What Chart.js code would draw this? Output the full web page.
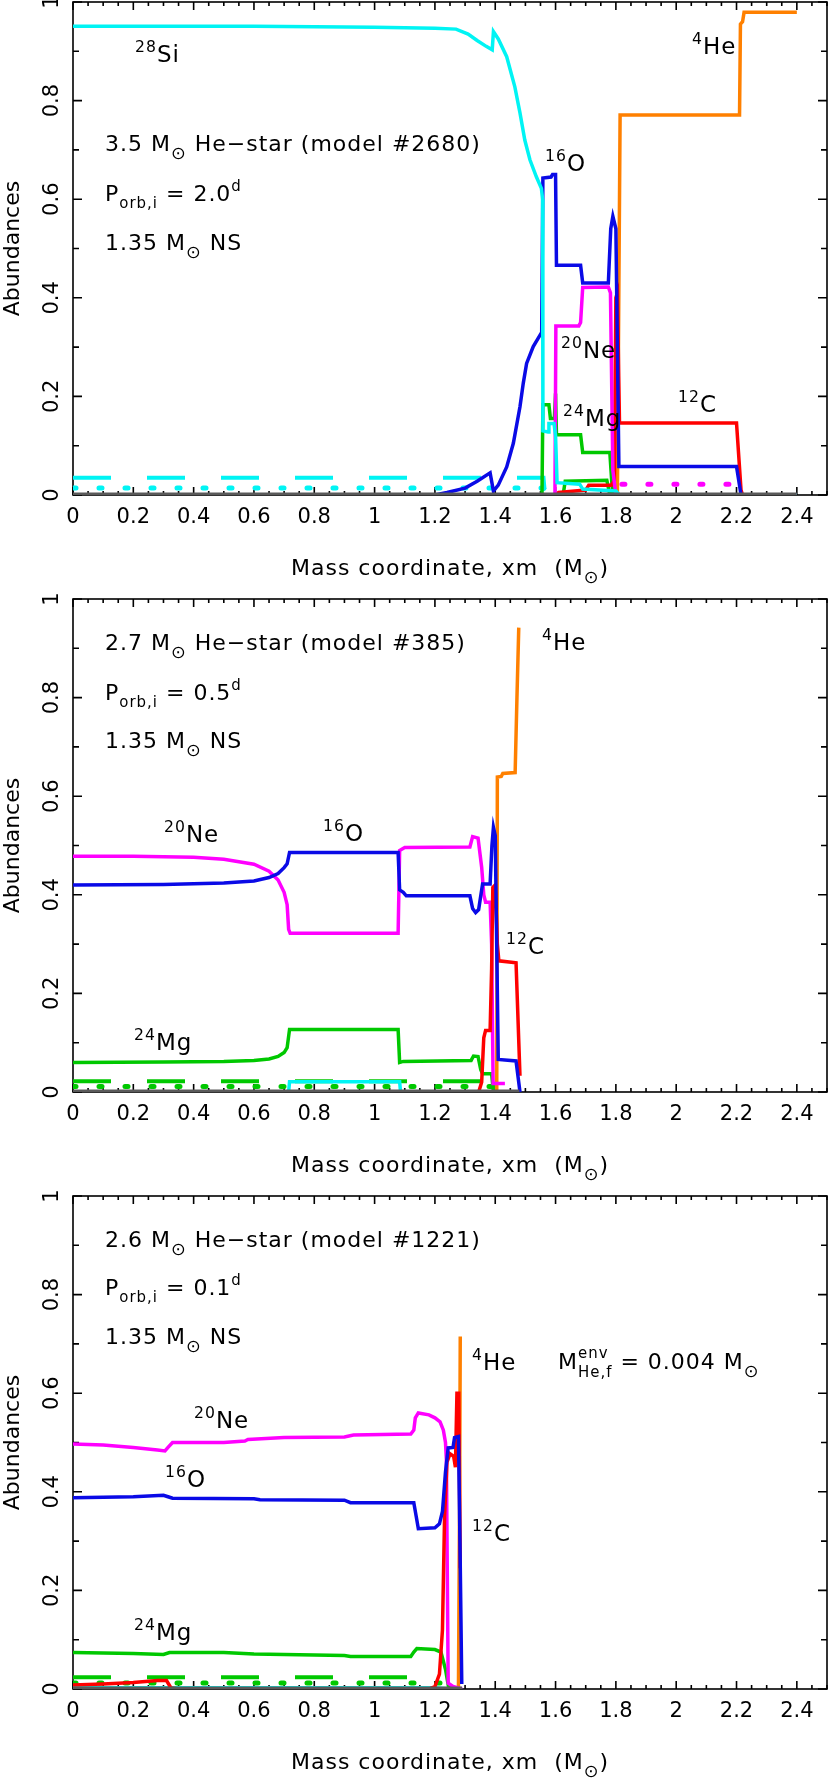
<!DOCTYPE html>
<html>
<head>
<meta charset="utf-8">
<script src="https://cdn.jsdelivr.net/npm/chart.js@4.4.0/dist/chart.umd.min.js"></script>
<style>
  html, body { margin: 0; padding: 0; background: #fff; width: 830px; height: 1780px; overflow: hidden; }
  canvas { position: absolute; left: 0; }
</style>
</head>
<body>
<canvas id="c1" width="830" height="596" style="top:-10px"></canvas>
<canvas id="c2" width="830" height="596" style="top:587px"></canvas>
<canvas id="c3" width="830" height="596" style="top:1184px"></canvas>
<script>
// ---- panel 1: 3.5 Msun He-star, Porb = 2.0 d ----
const p1Si28 = [[0,0.951],[0.6,0.951],[1.0,0.949],[1.2,0.947],[1.27,0.945],[1.31,0.935],[1.34,0.922],[1.37,0.91],[1.39,0.903],[1.394,0.94],[1.41,0.925],[1.438,0.889],[1.465,0.828],[1.482,0.775],[1.498,0.72],[1.515,0.68],[1.536,0.646],[1.553,0.622],[1.557,0.6],[1.558,0.13],[1.575,0.128],[1.578,0.145],[1.595,0.145],[1.6,0.12],[1.605,0.025],[1.68,0.022],[1.69,0.012],[1.8,0.008],[1.812,0],[2.4,0]]
const p1O16 = [[0,0],[1.2,0],[1.24,0.005],[1.3,0.014],[1.34,0.028],[1.383,0.045],[1.394,0.008],[1.41,0.02],[1.438,0.057],[1.46,0.105],[1.482,0.179],[1.493,0.227],[1.504,0.267],[1.526,0.301],[1.554,0.33],[1.558,0.643],[1.585,0.645],[1.59,0.65],[1.6,0.65],[1.603,0.466],[1.683,0.466],[1.69,0.43],[1.775,0.43],[1.783,0.54],[1.79,0.565],[1.8,0.54],[1.81,0.058],[2.2,0.058],[2.215,0],[2.4,0]]
const p1Ne20 = [[0,0],[1.598,0],[1.601,0.343],[1.677,0.343],[1.683,0.35],[1.69,0.421],[1.775,0.422],[1.782,0.41],[1.79,0.05],[1.8,0],[2.4,0]]
const p1Mg24 = [[0,0],[1.555,0],[1.558,0.183],[1.578,0.183],[1.583,0.155],[1.596,0.155],[1.6,0.206],[1.603,0.122],[1.683,0.122],[1.69,0.086],[1.78,0.086],[1.786,0.03],[1.79,0],[2.4,0]]
const p1Mg24b = [[1.625,0],[1.632,0.028],[1.77,0.03],[1.78,0]]
const p1C12 = [[0,0],[1.6,0],[1.61,0.005],[1.7,0.01],[1.71,0.02],[1.785,0.02],[1.795,0.03],[1.8,0.4],[1.805,0.41],[1.812,0.146],[2.2,0.146],[2.215,0.01],[2.22,0],[2.4,0]]
const p1He4 = [[1.805,0],[1.814,0.771],[2.21,0.771],[2.213,0.955],[2.22,0.96],[2.225,0.979],[2.4,0.979]]
const p1CyanDash = [[0,0.035],[1.56,0.035],[1.565,0]]
const p1CyanDot = [[0,0.014],[1.56,0.014],[1.57,0.004]]
const p1MagDot = [[1.82,0.022],[2.2,0.022],[2.21,0]]
const p1Base = [[0,0],[2.4,0]]

// ---- panel 2: 2.7 Msun He-star, Porb = 0.5 d ----
const p2Ne20 = [[0,0.478],[0.2,0.478],[0.4,0.476],[0.5,0.472],[0.6,0.462],[0.65,0.448],[0.68,0.43],[0.7,0.405],[0.71,0.38],[0.715,0.33],[0.72,0.322],[1.078,0.322],[1.083,0.49],[1.1,0.496],[1.316,0.497],[1.325,0.518],[1.343,0.515],[1.355,0.456],[1.362,0.4],[1.368,0.385],[1.383,0.385],[1.388,0.3],[1.393,0.017],[1.432,0.017]]
const p2O16 = [[0,0.42],[0.3,0.421],[0.5,0.424],[0.6,0.428],[0.65,0.435],[0.68,0.443],[0.7,0.455],[0.71,0.463],[0.718,0.486],[1.078,0.486],[1.083,0.41],[1.095,0.405],[1.105,0.398],[1.316,0.398],[1.325,0.372],[1.335,0.364],[1.345,0.37],[1.358,0.422],[1.383,0.422],[1.389,0.5],[1.394,0.537],[1.4,0.52],[1.41,0.066],[1.469,0.063],[1.482,0]]
const p2C12 = [[0,0],[1.345,0],[1.355,0.02],[1.362,0.11],[1.368,0.125],[1.383,0.125],[1.388,0.25],[1.392,0.415],[1.4,0.42],[1.407,0.3],[1.412,0.266],[1.469,0.262],[1.482,0.033]]
const p2Mg24 = [[0,0.06],[0.3,0.061],[0.5,0.062],[0.6,0.064],[0.65,0.067],[0.68,0.072],[0.7,0.08],[0.71,0.09],[0.718,0.127],[1.078,0.127],[1.083,0.06],[1.095,0.062],[1.32,0.064],[1.328,0.073],[1.343,0.072],[1.352,0.045],[1.358,0.037],[1.388,0.037],[1.394,0]]
const p2He4 = [[1.405,0],[1.407,0.639],[1.42,0.64],[1.425,0.646],[1.466,0.648],[1.472,0.8],[1.478,0.942]]
const p2Si28 = [[0,0],[0.715,0],[0.718,0.021],[1.083,0.021],[1.086,0],[1.48,0]]
const p2MgDash = [[0,0.022],[1.383,0.022]]
const p2MgDot = [[0,0.011],[1.39,0.011]]
const p2Base = [[0,0],[1.48,0]]

// ---- panel 3: 2.6 Msun He-star, Porb = 0.1 d ----
const p3Ne20 = [[0,0.497],[0.1,0.495],[0.2,0.49],[0.28,0.485],[0.305,0.483],[0.315,0.49],[0.33,0.5],[0.5,0.5],[0.57,0.503],[0.58,0.506],[0.7,0.51],[0.9,0.511],[0.93,0.515],[1.12,0.517],[1.13,0.525],[1.135,0.55],[1.145,0.56],[1.18,0.556],[1.2,0.55],[1.217,0.542],[1.228,0.525],[1.235,0.5],[1.238,0.465],[1.244,0.012],[1.26,0.005],[1.29,0]]
const p3O16 = [[0,0.388],[0.2,0.39],[0.3,0.393],[0.315,0.39],[0.33,0.387],[0.6,0.386],[0.62,0.384],[0.9,0.383],[0.92,0.378],[1.13,0.378],[1.138,0.35],[1.145,0.325],[1.2,0.327],[1.215,0.335],[1.225,0.36],[1.235,0.44],[1.244,0.489],[1.26,0.49],[1.265,0.51],[1.278,0.512],[1.283,0.3],[1.289,0.01]]
const p3C12 = [[0,0.008],[0.1,0.01],[0.2,0.013],[0.28,0.017],[0.31,0.017],[0.325,0.002],[0.35,0],[1.18,0],[1.2,0.005],[1.215,0.03],[1.225,0.12],[1.232,0.35],[1.24,0.46],[1.25,0.477],[1.262,0.472],[1.268,0.45],[1.273,0.6],[1.279,0.6],[1.284,0.245]]
const p3Mg24 = [[0,0.074],[0.2,0.072],[0.3,0.07],[0.32,0.074],[0.5,0.074],[0.6,0.071],[0.9,0.068],[0.92,0.066],[1.12,0.066],[1.13,0.075],[1.14,0.082],[1.2,0.08],[1.22,0.075],[1.235,0.04],[1.245,0.005],[1.25,0]]
const p3He4 = [[1.278,0],[1.282,0.4],[1.284,0.715]]
const p3Si28 = [[0,0.004],[1.2,0.004],[1.29,0]]
const p3MgDash = [[0,0.024],[1.12,0.024]]
const p3MgDot = [[0,0.012],[1.27,0.012]]
const p3Base = [[0,0],[1.29,0]]

const xTickStep = 0.2
const yTickStep = 0.1

const FONT = '"DejaVu Sans", sans-serif'
const CYAN = '#00f4f4', BLUE = '#0a0ae6', MAG = '#ff00ff', GREEN = '#00c800', RED = '#ff0000', ORANGE = '#ff8000', GRAY = '#5a5a5a'

// text styles: n normal, p superscript, b subscript, o sun symbol subscript
const STYLE = { n: [1, 0], p: [0.68, -0.45], b: [0.68, 0.33], o: [0.8, 0.38] }

function rich(ctx, x, y, parts, size, draw) {
  let cx = x
  ctx.textAlign = 'left'
  ctx.textBaseline = 'alphabetic'
  parts.forEach(([t, k]) => {
    if (k === 'pb') {
      ctx.font = (size * 0.68) + 'px ' + FONT
      const w = Math.max(ctx.measureText(t[0]).width, ctx.measureText(t[1]).width)
      if (draw) {
        ctx.fillText(t[0], cx, y - size * 0.5)
        ctx.fillText(t[1], cx, y + size * 0.36)
      }
      cx += w
      return
    }
    const [s, dy] = STYLE[k]
    ctx.font = (size * s) + 'px ' + FONT
    if (draw) ctx.fillText(t, cx, y + size * dy)
    cx += ctx.measureText(t).width
  })
  return cx - x
}

const iso = (a, b) => [[a, 'p'], [b, 'n']]
const xTitle = [['Mass coordinate, xm  (M', 'n'], ['⊙', 'o'], [')', 'n']]

// notes: [x, y relative to plot top, parts, size]
const notes1 = [
  [105, 149, [['3.5 M', 'n'], ['⊙', 'o'], [' He−star (model #2680)', 'n']], 22],
  [105, 199, [['P', 'n'], ['orb,i', 'b'], [' = 2.0', 'n'], ['d', 'p']], 22],
  [105, 247.5, [['1.35 M', 'n'], ['⊙', 'o'], [' NS', 'n']], 22],
  [135, 60, iso('28', 'Si'), 23],
  [692, 52, iso('4', 'He'), 23],
  [545, 169, iso('16', 'O'), 23],
  [561, 356, iso('20', 'Ne'), 23],
  [563, 424, iso('24', 'Mg'), 23],
  [678, 410, iso('12', 'C'), 23]
]
const notes2 = [
  [105, 51, [['2.7 M', 'n'], ['⊙', 'o'], [' He−star (model #385)', 'n']], 22],
  [105, 101, [['P', 'n'], ['orb,i', 'b'], [' = 0.5', 'n'], ['d', 'p']], 22],
  [105, 149, [['1.35 M', 'n'], ['⊙', 'o'], [' NS', 'n']], 22],
  [542, 51, iso('4', 'He'), 23],
  [164, 243, iso('20', 'Ne'), 23],
  [323, 242, iso('16', 'O'), 23],
  [134, 451, iso('24', 'Mg'), 23],
  [506, 355, iso('12', 'C'), 23]
]
const notes3 = [
  [105, 51, [['2.6 M', 'n'], ['⊙', 'o'], [' He−star (model #1221)', 'n']], 22],
  [105, 99, [['P', 'n'], ['orb,i', 'b'], [' = 0.1', 'n'], ['d', 'p']], 22],
  [105, 148, [['1.35 M', 'n'], ['⊙', 'o'], [' NS', 'n']], 22],
  [472, 174, iso('4', 'He'), 23],
  [558, 173, [['M', 'n'], [['env', 'He,f'], 'pb'], [' = 0.004 M', 'n'], ['⊙', 'o']], 22],
  [194, 232, iso('20', 'Ne'), 23],
  [165, 291, iso('16', 'O'), 23],
  [134, 444, iso('24', 'Mg'), 23],
  [472, 345, iso('12', 'C'), 23]
]

const framePlugin = {
  id: 'frame',
  beforeDatasetsDraw(chart) {
    const { ctx, chartArea: a, scales: { x, y } } = chart
    ctx.save()
    ctx.strokeStyle = '#000'
    ctx.lineWidth = 1.6
    ctx.strokeRect(a.left, a.top, a.right - a.left, a.bottom - a.top)
    ctx.beginPath()
    for (let i = 0; i <= 50; i++) {
      const px = x.getPixelForValue(i * 0.05)
      const len = i % 4 === 0 ? 8 : 4
      ctx.moveTo(px, a.bottom); ctx.lineTo(px, a.bottom - len)
      ctx.moveTo(px, a.top); ctx.lineTo(px, a.top + len)
    }
    y.ticks.forEach(t => {
      const py = y.getPixelForValue(t.value)
      const len = Math.round(t.value * 10) % 2 === 0 ? 9 : 6
      ctx.moveTo(a.left, py); ctx.lineTo(a.left + len, py)
      ctx.moveTo(a.right, py); ctx.lineTo(a.right - len, py)
    })
    ctx.stroke()
    ctx.restore()
  },
  afterDraw(chart, args, opts) {
    const { ctx, chartArea: a, scales: { y } } = chart
    ctx.save()
    ctx.fillStyle = '#000'
    // rotated y tick labels
    ctx.font = '21px ' + FONT
    ctx.textAlign = 'center'
    ctx.textBaseline = 'middle'
    y.ticks.forEach(t => {
      if (Math.round(t.value * 10) % 2 !== 0) return
      ctx.save()
      ctx.translate(53, y.getPixelForValue(t.value))
      ctx.rotate(-Math.PI / 2)
      ctx.fillText(String(+t.value.toFixed(1)), 0, 0)
      ctx.restore()
    })
    ctx.letterSpacing = '1px'
    const w = rich(ctx, 0, 0, xTitle, 22, false)
    rich(ctx, (a.left + a.right) / 2 - w / 2, a.top + 573, xTitle, 22, true)
    opts.notes.forEach(([nx, ny, parts, size]) => rich(ctx, nx, a.top + ny, parts, size, true))
    ctx.restore()
  }
}

function line(pts, color, order, extra) {
  return Object.assign({
    data: pts.map(p => ({ x: p[0], y: p[1] })),
    borderColor: color,
    borderWidth: 3.5,
    pointRadius: 0,
    fill: false,
    tension: 0,
    order: order
  }, extra || {})
}
const dash = { borderDash: [38, 36], borderWidth: 4 }
const dot = { borderDash: [3, 23], borderWidth: 5, borderCapStyle: 'round' }

function makePanel(id, datasets, notes) {
  new Chart(document.getElementById(id), {
    type: 'line',
    data: { datasets: datasets },
    options: {
      responsive: false,
      animation: false,
      layout: { padding: { top: 12, right: 3, left: 0, bottom: 0 } },
      plugins: { legend: { display: false }, tooltip: { enabled: false }, frame: { notes: notes } },
      scales: {
        x: {
          type: 'linear', min: 0, max: 2.5,
          grid: { display: false, drawTicks: false },
          border: { display: false },
          ticks: {
            stepSize: xTickStep, includeBounds: false, autoSkip: false, maxRotation: 0,
            padding: 10, color: '#000', font: { family: FONT, size: 21 },
            callback: v => String(+v.toFixed(1))
          },
          afterFit: s => { s.height = 91 }
        },
        y: {
          min: 0, max: 1,
          grid: { display: false, drawTicks: false },
          border: { display: false },
          ticks: { stepSize: yTickStep, display: false },
          title: { display: true, text: 'Abundances', color: '#000', font: { family: FONT, size: 22 }, padding: 0 },
          afterFit: s => { s.width = 73 }
        }
      }
    },
    plugins: [framePlugin]
  })
}

makePanel('c1', [
  line(p1Base, GRAY, 0, { borderWidth: 5 }),
  line(p1O16, BLUE, 2),
  line(p1Ne20, MAG, 3),
  line(p1C12, RED, 4),
  line(p1Mg24, GREEN, 5),
  line(p1Mg24b, GREEN, 5),
  line(p1He4, ORANGE, 6),
  line(p1Si28, CYAN, 1),
  line(p1CyanDash, CYAN, 8, dash),
  line(p1CyanDot, CYAN, 8, dot),
  line(p1MagDot, MAG, 8, dot)
], notes1)

makePanel('c2', [
  line(p2Base, GRAY, 0, { borderWidth: 5 }),
  line(p2O16, BLUE, 1),
  line(p2Ne20, MAG, 3),
  line(p2C12, RED, 2),
  line(p2Mg24, GREEN, 5),
  line(p2He4, ORANGE, 4),
  line(p2Si28, CYAN, 6),
  line(p2MgDash, GREEN, 8, dash),
  line(p2MgDot, GREEN, 8, dot)
], notes2)

makePanel('c3', [
  line(p3Base, GRAY, 0, { borderWidth: 5 }),
  line(p3O16, BLUE, 1),
  line(p3C12, RED, 2),
  line(p3Ne20, MAG, 3),
  line(p3Mg24, GREEN, 5),
  line(p3He4, ORANGE, 4),
  line(p3Si28, CYAN, 6, { borderWidth: 2 }),
  line(p3MgDash, GREEN, 8, dash),
  line(p3MgDot, GREEN, 8, dot)
], notes3)
</script>
</body>
</html>
